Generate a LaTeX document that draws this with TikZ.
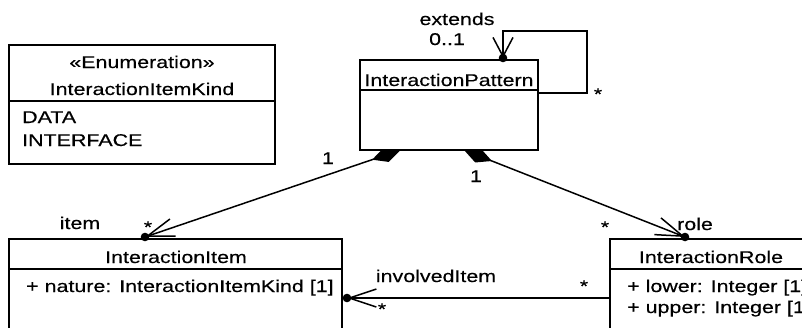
\documentclass[tikz,border=0pt]{standalone}
\usepackage{fontspec}
\setmainfont{Liberation Sans}[FakeStretch=1.26,FakeBold=0.35]
\usetikzlibrary{arrows.meta,calc,backgrounds}
\tikzset{
  box/.style={draw, fill=white, line width=1.9pt, rectangle, outer sep=0pt, inner sep=0pt, anchor=north west},
  divider/.style={line width=1.9pt},
  lbl/.style={anchor=base, inner sep=0pt, font=\fontsize{17}{20}\selectfont},
  lblw/.style={lbl, anchor=base west},
  conn/.style={line width=1.5pt},
  comp/.style={conn, {Diamond[length=30pt,width=15pt]}-{Straight Barb[length=27pt,width=18pt]}},
  nav/.style={conn, -{Straight Barb[length=27pt,width=18pt]}},
  selfnav/.style={conn, -{Straight Barb[length=19pt,width=20pt]}},
  ownerdot/.style={fill=black},
}
\begin{document}
\begin{tikzpicture}[x=1pt,y=-1pt]
\useasboundingbox (0,0) rectangle (802,327);
\clip (0,0) rectangle (802,327);

% boxes
\node[box, minimum width=266pt, minimum height=119pt] (enum) at (9,45) {};
\draw[divider] ($(enum.north west)+(0,56)$) -- ($(enum.north east)+(0,56)$);
\node[box, minimum width=178pt, minimum height=90pt] (ip) at (360,60) {};
\draw[divider] ($(ip.north west)+(0,30)$) -- ($(ip.north east)+(0,30)$);
\node[box, minimum width=333pt, minimum height=101pt] (item) at (9,239) {};
\draw[divider] ($(item.north west)+(0,30)$) -- ($(item.north east)+(0,30)$);
\node[box, minimum width=202pt, minimum height=101pt] (role) at (610,239) {};
\draw[divider] ($(role.north west)+(0,30)$) -- ($(role.north east)+(0,30)$);

% box texts
\node[lbl] (enumst) at (142,68) {«Enumeration»};
\node[lbl] (enumname) at (142,95) {InteractionItemKind};
\node[lblw] (lit1) at (22,123) {DATA};
\node[lblw] (lit2) at (22,146) {INTERFACE};
\node[lbl] (ipname) at (449,86) {InteractionPattern};
\node[lbl] (itemname) at (176,263) {InteractionItem};
\node[lblw] (itemattr) at (26,292) {+ nature: InteractionItemKind [1]};
\node[lbl] (rolename) at (711,263) {InteractionRole};
\node[lblw] (roleattr1) at (627,292) {+ lower: Integer [1]};
\node[lblw] (roleattr2) at (627,313) {+ upper: Integer [1]};

% connector end points
\coordinate (itemEnd) at ($(item.north west)+(136,-2)$);
\coordinate (roleEnd) at ($(role.north west)+(75,-2)$);
\coordinate (invEnd) at ($(item.north east)+(5,59)$);
\coordinate (extEnd) at ($(ip.north west)+(143,-2)$);
\coordinate (compL) at ($(ip.south west)+(40.5,0)$);
\coordinate (compR) at ($(ip.south west)+(104,0)$);
\coordinate (invStart) at ($(role.north west)+(0,59)$);
\coordinate (extStart) at ($(ip.north east)+(0,33)$);

\begin{scope}[on background layer]
  \draw[comp] (compL) -- (itemEnd);
  \draw[comp] (compR) -- (roleEnd);
  \draw[nav] (invStart) -- (invEnd);
  \draw[selfnav] (extStart) -- ++(49,0) -- ++(0,-62) -| (extEnd);
\end{scope}
\fill[ownerdot] (itemEnd) circle (4.3pt);
\fill[ownerdot] (roleEnd) circle (4.3pt);
\fill[ownerdot] (invEnd) circle (4.3pt);
\fill[ownerdot] (extEnd) circle (4.3pt);

% connector labels
\node[lbl] (lext) at (457,25) {extends};
\node[lbl] (lext01) at (447,45) {0..1};
\node[lbl] (lextstar) at (598,100) {*};
\node[lbl] (lone1) at (328,164) {1};
\node[lbl] (lone2) at (476,182) {1};
\node[lbl] (litem) at (80,229) {item};
\node[lbl] (litemstar) at (148,233) {*};
\node[lbl] (lrolestar) at (605,233) {*};
\node[lbl] (lrole) at (695,230) {role};
\node[lbl] (linv) at (436,282) {involvedItem};
\node[lbl] (linvstar1) at (584,292) {*};
\node[lbl] (linvstar2) at (382,315) {*};
\end{tikzpicture}
\end{document}
